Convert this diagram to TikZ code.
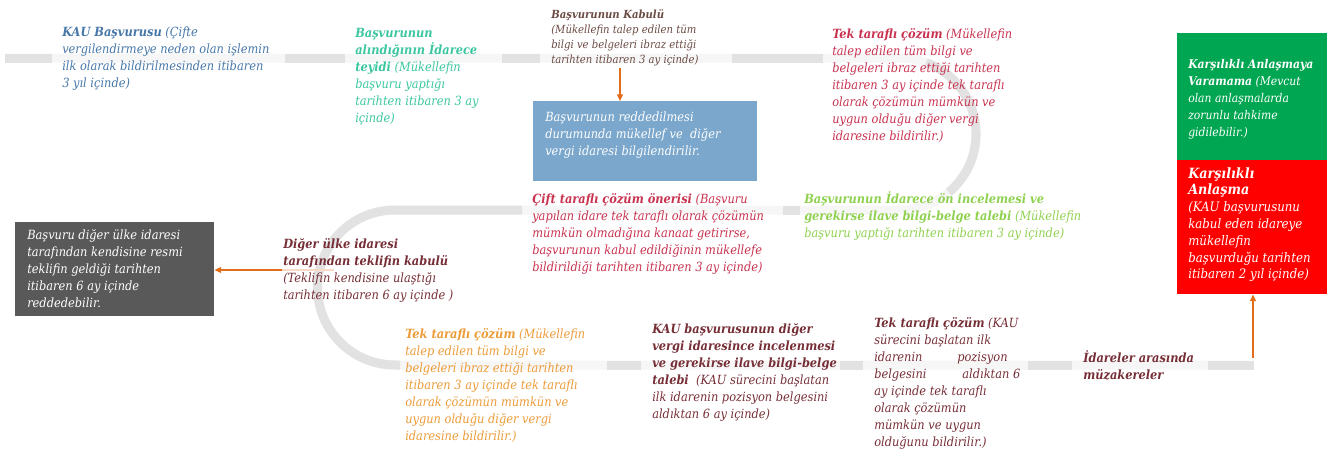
\documentclass[tikz,border=0pt]{standalone}
\usepackage{fontspec}
\setmainfont{DejaVu Serif}[FakeStretch=0.9]
\usetikzlibrary{arrows.meta}
\definecolor{trk}{HTML}{E2E2E2}
\definecolor{trkf}{HTML}{F6F6F6}
\definecolor{cblue}{HTML}{4677A8}
\definecolor{cteal}{HTML}{3CC6A0}
\definecolor{cbrown}{HTML}{6B4B43}
\definecolor{ccrim}{HTML}{C8324F}
\definecolor{cgreen}{HTML}{00A651}
\definecolor{cred}{HTML}{FF0000}
\definecolor{cboxb}{HTML}{7BA7CC}
\definecolor{cgray}{HTML}{595959}
\definecolor{cmar}{HTML}{762E36}
\definecolor{clgreen}{HTML}{8FD14F}
\definecolor{corange}{HTML}{EC9B38}
\definecolor{carrow}{HTML}{E26D1B}
\newcommand\redtitle[1]{\textbf{\fontsize{10.6}{12.75}\selectfont #1}}
\begin{document}
\begin{tikzpicture}[x=0.75pt,y=-0.75pt,
 trackfaint/.style={draw=trkf,line width=6.75pt},
 trackseg/.style={draw=trk,line width=6.75pt},
 lbl/.style={anchor=north west,inner sep=0pt,align=left,font=\fontsize{9.5}{12.75}\selectfont\itshape},
 boxshape/.style={anchor=north west,inner sep=0pt,draw=none},
 arr/.style={draw=carrow,line width=0.9pt,-{Triangle[length=5pt,width=4.5pt]}},
 arrfaint/.style={draw=carrow!25,line width=0.9pt}]
\useasboundingbox (0,0) rectangle (1333,451);
% faint full track
\draw[trackfaint] (5,58) -- (900,58) arc[start angle=-90,end angle=90,radius=76] -- (395,210) arc[start angle=270,end angle=90,radius=77.5] -- (1254,365);
% visible track segments
\draw[trackseg] (5,58) -- (52,58);
\draw[trackseg] (285,58) -- (345,58);
\draw[trackseg] (502,58) -- (540,58);
\draw[trackseg] (732,58) -- (823,58);
\draw[trackseg] (900,134) ++(-70:76) arc[start angle=-70,end angle=50,radius=76];
\draw[trackseg] (783,210) -- (800,210);
\draw[trackseg] (522,210) -- (395,210) arc[start angle=270,end angle=90,radius=77.5] -- (400,365);
\draw[trackseg] (607,365) -- (641,365);
\draw[trackseg] (840,365) -- (863,365);
\draw[trackseg] (1028,365) -- (1072,365);
\draw[trackseg] (1208,365) -- (1254,365);

% top row
\node[lbl,text=cblue] (kau) at (62,27) {\textbf{KAU Başvurusu} (Çifte\\vergilendirmeye neden olan işlemin\\ilk olarak bildirilmesinden itibaren\\3 yıl içinde)};
\node[lbl,text=cteal] (teyit) at (355,28) {\textbf{Başvurunun}\\\textbf{alındığının İdarece}\\\textbf{teyidi} (Mükellefin\\başvuru yaptığı\\tarihten itibaren 3 ay\\içinde)};
\node[lbl,text=cbrown,font=\fontsize{8.4}{11.25}\selectfont\itshape] (kabul) at (551,9) {\textbf{Başvurunun Kabulü}\\(Mükellefin talep edilen tüm\\bilgi ve belgeleri ibraz ettiği\\tarihten itibaren 3 ay içinde)};
\node[boxshape,fill=cboxb,minimum width=168pt,minimum height=60pt] (rejbox) at (533,101) {};
\node[lbl,text=white] (rejtxt) at (545,112) {Başvurunun reddedilmesi\\durumunda mükellef ve\ \ diğer\\vergi idaresi bilgilendirilir.};
\coordinate (a1) at (620,68);
\draw[arr] (a1) -- (a1 |- rejbox.north);
\node[lbl,text=ccrim] (tek1) at (832,28) {\textbf{Tek taraflı çözüm} (Mükellefin\\talep edilen tüm bilgi ve\\belgeleri ibraz ettiği tarihten\\itibaren 3 ay içinde tek taraflı\\olarak çözümün mümkün ve\\uygun olduğu diğer vergi\\idaresine bildirilir.)};

% right boxes
\node[boxshape,fill=cgreen,minimum width=112.5pt,minimum height=95.25pt] (agrbox) at (1177,33) {};
\node[lbl,text=white,font=\fontsize{9}{12.75}\selectfont\itshape] (agrtxt) at (1188,59) {\textbf{Karşılıklı Anlaşmaya}\\\textbf{Varamama} (Mevcut\\olan anlaşmalarda\\zorunlu tahkime\\gidilebilir.)};
\node[boxshape,fill=cred,minimum width=112.5pt,minimum height=100.5pt] (redb) at (1177,160) {};
\node[lbl,text=white,font=\fontsize{9.8}{12.6}\selectfont\itshape] (redtxt) at (1188,167) {\redtitle{Karşılıklı}\\\redtitle{Anlaşma}\\(KAU başvurusunu\\kabul eden idareye\\mükellefin\\başvurduğu tarihten\\itibaren 2 yıl içinde)};

% middle row
\node[boxshape,fill=cgray,minimum width=149.25pt,minimum height=70.5pt] (grayb) at (15,222) {};
\node[lbl,text=white] (graytxt) at (27,229) {Başvuru diğer ülke idaresi\\tarafından kendisine resmi\\teklifin geldiği tarihten\\itibaren 6 ay içinde\\reddedebilir.};
\coordinate (a2) at (334,270);
\coordinate (a2b) at (282,270);
\draw[arrfaint] (a2) -- (a2b);
\draw[arr] (a2b) -- (a2b -| grayb.east);
\node[lbl,text=cmar] (diger) at (283,238) {\textbf{Diğer ülke idaresi}\\\textbf{tarafından teklifin kabulü}\\(Teklifin kendisine ulaştığı\\tarihten itibaren 6 ay içinde )};
\node[lbl,text=ccrim] (cift) at (532,193) {\textbf{Çift taraflı çözüm önerisi} (Başvuru\\yapılan idare tek taraflı olarak çözümün\\mümkün olmadığına kanaat getirirse,\\başvurunun kabul edildiğinin mükellefe\\bildirildiği tarihten itibaren 3 ay içinde)};
\node[lbl,text=clgreen] (onin) at (804,191) {\textbf{Başvurunun İdarece ön incelemesi ve}\\\textbf{gerekirse ilave bilgi-belge talebi} (Mükellefin\\başvuru yaptığı tarihten itibaren 3 ay içinde)};

% bottom row
\node[lbl,text=corange] (tek2) at (405,328) {\textbf{Tek taraflı çözüm} (Mükellefin\\talep edilen tüm bilgi ve\\belgeleri ibraz ettiği tarihten\\itibaren 3 ay içinde tek taraflı\\olarak çözümün mümkün ve\\uygun olduğu diğer vergi\\idaresine bildirilir.)};
\node[lbl,text=cmar] (kaudiger) at (652,323) {\textbf{KAU başvurusunun diğer}\\\textbf{vergi idaresince incelenmesi}\\\textbf{ve gerekirse ilave bilgi-belge}\\\textbf{talebi}\ \ (KAU sürecini başlatan\\ilk idarenin pozisyon belgesini\\aldıktan 6 ay içinde)};
\node[lbl,text=cmar] (tek3) at (874,317) {\textbf{Tek taraflı çözüm} (KAU\\sürecini başlatan ilk\\\hbox to 100pt{idarenin\hfill pozisyon}\\\hbox to 109.5pt{belgesini\hfill aldıktan 6}\\ay içinde tek taraflı\\olarak çözümün\\mümkün ve uygun\\olduğunu bildirilir.)};
\node[lbl,text=cmar] (muz) at (1083,350) {\textbf{İdareler arasında}\\\textbf{müzakereler}};
\coordinate (a3) at (1253,358);
\draw[arr] (a3) -- (a3 |- redb.south);
\end{tikzpicture}
\end{document}
